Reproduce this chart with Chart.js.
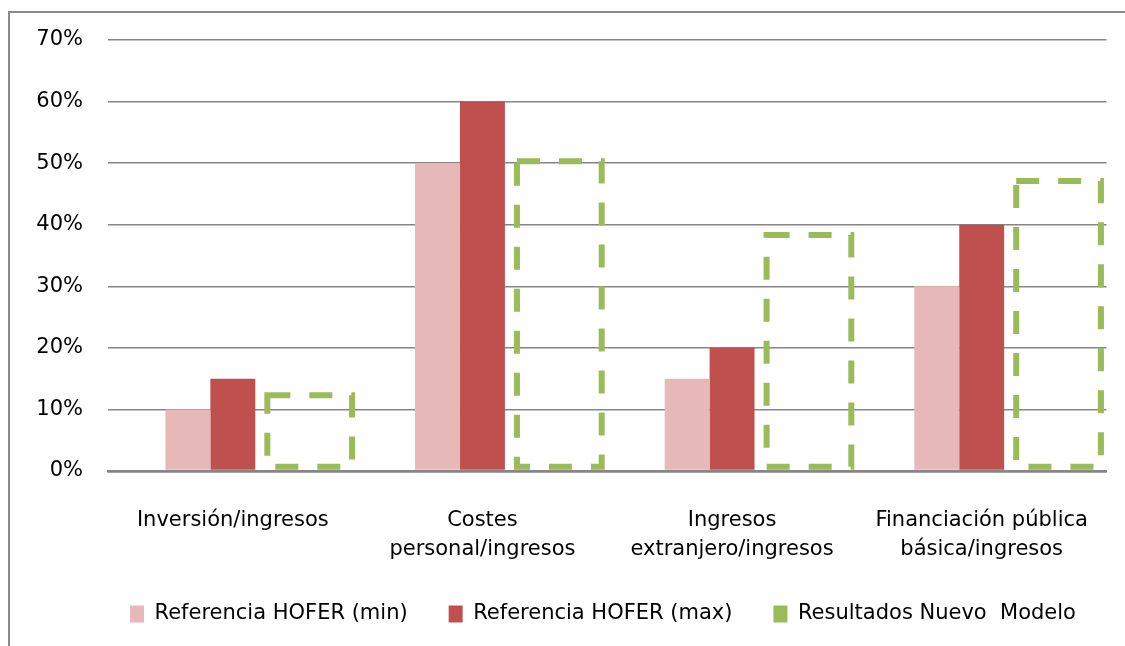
<!DOCTYPE html>
<html>
<head>
<meta charset="utf-8">
<script src="https://cdn.jsdelivr.net/npm/chart.js@4"></script>
<style>
    html, body { margin: 0; padding: 0; background: #fff; overflow: hidden; }
    #frame {
        position: absolute; left: 8px; top: 11px;
        width: 2000px; height: 2000px;
        border-left: 2px solid #8a8a8a; border-top: 2px solid #8a8a8a;
    }
    #chart { position: absolute; left: 0; top: 0; }
</style>
</head>
<body>
<div id="frame"></div>
<canvas id="chart" width="1125" height="646"></canvas>
<script>
// Chart data
const categories = [
    'Inversión/ingresos',
    ['Costes', 'personal/ingresos'],
    ['Ingresos', 'extranjero/ingresos'],
    ['Financiación pública', 'básica/ingresos']
];
const hoferMin = [10, 50, 15, 30];
const hoferMax = [15, 60, 20, 40];
const nuevoModelo = [12.8, 50.8, 38.8, 47.6];
const seriesNames = ['Referencia HOFER (min)', 'Referencia HOFER (max)', 'Resultados Nuevo  Modelo'];
const seriesColors = ['#e6b9b8', '#c0504d', '#9bbb59'];
const yMax = 70;
const yStep = 10;

const FONT = 'DejaVu Sans';

// Dashed outline for the "Nuevo Modelo" bars (Chart.js bars have no border dash)
const dashedBars = {
    id: 'dashedBars',
    afterDatasetsDraw(chart) {
        const ctx = chart.ctx;
        chart.data.datasets.forEach((ds, i) => {
            if (!ds.dashed) return;
            const meta = chart.getDatasetMeta(i);
            const lw = 6;
            ctx.save();
            ctx.strokeStyle = seriesColors[2];
            ctx.lineWidth = lw;
            ctx.setLineDash([23, 19]);
            meta.data.forEach(bar => {
                const { x, y, base, width } = bar.getProps(['x', 'y', 'base', 'width'], true);
                const l = x - width / 2 + lw / 2;
                const r = x + width / 2 - lw / 2;
                const t = y + lw / 2;
                const b = base - lw / 2;
                ctx.beginPath();
                ctx.moveTo(l, t);
                ctx.lineTo(r, t);
                ctx.lineTo(r, b);
                ctx.lineTo(l, b);
                ctx.closePath();
                ctx.stroke();
            });
            ctx.restore();
        });
    }
};

// the original legend sits a bit right of the canvas centre
const legendShift = {
    id: 'legendShift',
    afterLayout(chart) {
        if (!chart.legend) return;
        chart.legend.left += 49;
        chart.legend.right += 49;
    }
};

const ctx = document.getElementById('chart').getContext('2d');
const chart = new Chart(ctx, {
    type: 'bar',
    data: {
        labels: categories,
        datasets: [
            { label: seriesNames[0], data: hoferMin, backgroundColor: seriesColors[0],
              categoryPercentage: 0.54, barPercentage: 1.0 },
            { label: seriesNames[1], data: hoferMax, backgroundColor: seriesColors[1],
              categoryPercentage: 0.54, barPercentage: 1.0 },
            // wider slot so the outlined bar sits further right, like the original
            { label: seriesNames[2], data: nuevoModelo, backgroundColor: 'rgba(0,0,0,0)', dashed: true,
              categoryPercentage: 0.924, barPercentage: 1.18 }
        ]
    },
    options: {
        responsive: false,
        animation: false,
        devicePixelRatio: 1,
        layout: { padding: { top: 40, right: 17, bottom: 11.5, left: 0 } },
        scales: {
            x: {
                offset: true,
                grid: { display: false, drawTicks: false },
                border: { display: true, color: '#868686', width: 2.5 },
                ticks: {
                    color: '#000',
                    padding: 35,
                    maxRotation: 0,
                    autoSkip: false,
                    font: { family: FONT, size: 21, lineHeight: 1.38 }
                },
                afterFit: (scale) => { scale.height = 91.5; }
            },
            y: {
                min: 0,
                max: yMax,
                border: { display: false },
                grid: {
                    color: '#868686',
                    lineWidth: (c) => c.tick && c.tick.value === 0 ? 2.5 : 1.5,
                    drawTicks: false
                },
                ticks: {
                    stepSize: yStep,
                    color: '#000',
                    padding: 25,
                    font: { family: FONT, size: 21 },
                    callback: (v) => v + '%'
                },
                afterFit: (scale) => { scale.width = 108; }
            }
        },
        plugins: {
            tooltip: { enabled: false },
            legend: {
                position: 'bottom',
                labels: {
                    color: '#000',
                    boxWidth: 14,
                    boxHeight: 17,
                    padding: 41,
                    font: { family: FONT, size: 21 },
                    generateLabels: (chart) => {
                        const items = Chart.defaults.plugins.legend.labels.generateLabels(chart);
                        return items.map(it => {
                            const idx = seriesNames.indexOf(it.text);
                            it.fillStyle = seriesColors[idx];
                            it.strokeStyle = seriesColors[idx];
                            it.lineWidth = 0;
                            return it;
                        });
                    }
                }
            }
        }
    },
    plugins: [dashedBars, legendShift]
});
</script>
</body>
</html>
